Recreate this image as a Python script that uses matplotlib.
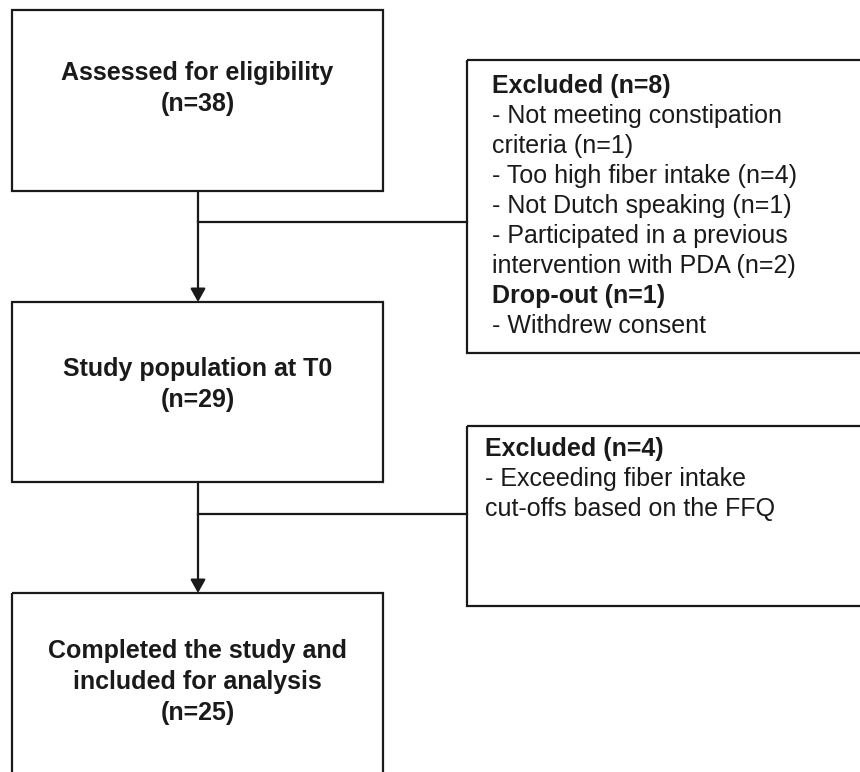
# Participant flow chart (eligibility -> T0 -> analysis)
import matplotlib.pyplot as plt
from matplotlib.patches import Rectangle

plt.rcParams['font.family'] = ['Liberation Sans', 'DejaVu Sans']

# flow text
main_steps = [
    ["Assessed for eligibility", "(n=38)"],
    ["Study population at T0", "(n=29)"],
    ["Completed the study and", "included for analysis", "(n=25)"],
]
# side boxes: (line, is_bold)
side_notes = [
    [("Excluded (n=8)", True),
     ("- Not meeting constipation", False),
     ("criteria (n=1)", False),
     ("- Too high fiber intake (n=4)", False),
     ("- Not Dutch speaking (n=1)", False),
     ("- Participated in a previous", False),
     ("intervention with PDA (n=2)", False),
     ("Drop-out (n=1)", True),
     ("- Withdrew consent", False)],
    [("Excluded (n=4)", True),
     ("- Exceeding fiber intake", False),
     ("cut-offs based on the FFQ", False)],
]

# layout in pixels (y down)
main_boxes = [(12, 10, 383, 191), (12, 302, 383, 482), (12, 593, 383, 790)]
main_text_y = [73, 369, 651]
side_boxes = [(467, 60, 880, 353), (467, 426, 880, 606)]
side_text = [(492, 86), (485, 449)]
branch_y = [222, 514]
line_h = 30
col_x = 198
lw = 1.6
fs = 18

fig = plt.figure(figsize=(8.6, 7.72), dpi=100)
ax = fig.add_axes([0, 0, 1, 1])
ax.set_xlim(0, 860)
ax.set_ylim(772, 0)
ax.axis('off')

for (x0, y0, x1, y1), lines, ty in zip(main_boxes, main_steps, main_text_y):
    ax.add_patch(Rectangle((x0, y0), x1 - x0, y1 - y0, fill=False,
                           lw=lw, ec='#1a1a1a'))
    for i, s in enumerate(lines):
        ax.text((x0 + x1) / 2, ty + i * 31, s, ha='center', va='center',
                fontsize=fs, fontweight='bold', color='#1a1a1a')

for (x0, y0, x1, y1), lines, (tx, ty) in zip(side_boxes, side_notes, side_text):
    ax.add_patch(Rectangle((x0, y0), x1 - x0, y1 - y0, fill=False,
                           lw=lw, ec='#1a1a1a'))
    for i, (s, bold) in enumerate(lines):
        ax.text(tx, ty + i * line_h, s, ha='left', va='center',
                fontsize=fs, fontweight='bold' if bold else 'normal',
                color='#1a1a1a')

# connectors
for k in range(2):
    top = main_boxes[k][3]
    bottom = main_boxes[k + 1][1]
    ax.annotate('', xy=(col_x, bottom), xytext=(col_x, top),
                arrowprops=dict(arrowstyle='-|>,head_length=0.8,head_width=0.45',
                                lw=lw, color='#1a1a1a', shrinkA=0, shrinkB=0))
    ax.plot([col_x, side_boxes[k][0]], [branch_y[k], branch_y[k]],
            color='#1a1a1a', lw=lw)

fig.savefig('out.png', dpi=100)
